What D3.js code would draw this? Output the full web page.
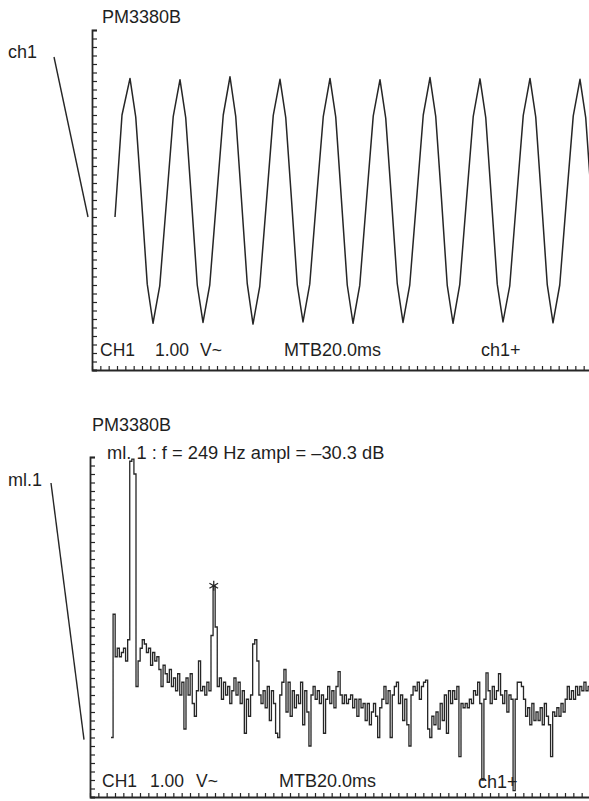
<!DOCTYPE html>
<html>
<head>
<meta charset="utf-8">
<script src="https://cdn.jsdelivr.net/npm/d3@7"></script>
<style>
  body { margin: 0; background: #fff; }
  svg { display: block; font-family: "Liberation Sans", Arial, Helvetica, sans-serif; }
  text { fill: #1f1f1f; }
</style>
</head>
<body>
<svg id="chart" width="589" height="801"></svg>
<script>
// ---- top trace: CH1 in time, 1.00 V/div, 20 ms/div ----
const sineT = [
  9.2, 12,
  15.2, 17.5, 19.8, 22.1, 24.4, 27.1, 29.8, 32.5,
  35.2, 37.5, 39.8, 42.1, 44.4, 47.1, 49.8, 52.5,
  55.2, 57.5, 59.8, 62.1, 64.4, 67.1, 69.8, 72.5,
  75.2, 77.5, 79.8, 82.1, 84.4, 87.1, 89.8, 92.5,
  95.2, 97.5, 99.8, 102.1, 104.4, 107.1, 109.8, 112.5,
  115.2, 117.5, 119.8, 122.1, 124.4, 127.1, 129.8, 132.5,
  135.2, 137.5, 139.8, 142.1, 144.4, 147.1, 149.8, 152.5,
  155.2, 157.5, 159.8, 162.1, 164.4, 167.1, 169.8, 172.5,
  175.2, 177.5, 179.8, 182.1, 184.4, 187.1, 189.8, 192.5,
  195.2, 197.5, 199.8
];
const sineV = [
  -0.4, 2.0,
  2.86, 1.95, 0.02, -1.98, -2.9, -2.02, -0.03, 1.97,
  2.83, 1.93, -0.01, -2.0, -2.88, -2.0, 0.01, 2.0,
  2.9, 1.96, 0.0, -1.97, -2.92, -2.03, -0.02, 1.99,
  2.84, 1.94, 0.01, -1.99, -2.87, -1.98, 0.02, 1.96,
  2.86, 1.95, -0.02, -2.0, -2.9, -2.01, 0.0, 1.98,
  2.83, 1.92, 0.01, -1.97, -2.88, -2.0, -0.01, 2.0,
  2.88, 1.96, 0.02, -2.01, -2.9, -1.99, 0.01, 1.97,
  2.85, 1.94, -0.01, -1.98, -2.87, -2.02, 0.0, 1.99,
  2.86, 1.95, 0.0, -1.99, -2.89, -2.0, 0.02, 1.98,
  2.84, 1.93, 0.0
];
const ch1GroundV = -0.4;

// ---- bottom trace: spectrum, 5 Hz bins from 0 Hz, dB ----
const specStartHz = 0;
const specBinHz = 5;
const specDb = [
  -66, -37, -47, -45, -47, -46, -45, -48, -43, -1,
  -0.5, -4, -54, -48, -45, -43, -44, -46, -45, -49,
  -46, -48, -47, -50, -54, -49, -51, -53, -50, -54,
  -52, -55, -51, -56, -53, -64, -52, -56, -51, -58,
  -61, -55, -48, -55, -54, -56, -53, -55, -42, -30.3,
  -40, -54, -52, -57, -53, -56, -54, -58, -55, -52,
  -56, -53, -58, -55, -65, -57, -61, -56, -44, -43,
  -48, -56, -58, -55, -59, -54, -62, -55, -58, -65,
  -66, -56, -53, -50, -60, -53, -61, -55, -59, -56,
  -58, -53, -63, -55, -60, -68, -56, -54, -57, -55,
  -58, -56, -65, -57, -54, -58, -55, -59, -54, -50.5,
  -56, -58, -56, -58, -57, -56, -59, -57, -61, -57,
  -59, -58, -62, -58, -63, -60, -58, -61, -66, -59,
  -57, -54, -58, -55, -66, -56, -54, -53, -58, -56,
  -62, -57, -63, -68, -56, -54, -55, -53, -57, -54,
  -53, -52.5, -64, -66, -61, -63, -60, -64, -58, -62,
  -56, -65, -55, -58, -55, -57, -54, -70.5, -58, -59,
  -58, -59, -57, -58, -55, -56, -53, -58, -76, -57,
  -50.8, -55, -58, -54, -57, -55, -51, -56, -58, -55,
  -60, -56, -57, -78.5, -57, -53, -53, -54, -57, -61,
  -59, -63, -58, -62, -60, -62, -59, -63, -58, -61,
  -63, -70.5, -60, -61, -59, -61, -58, -60, -57, -54,
  -57, -55, -57, -54, -56, -54, -55, -53, -55, -54, -54
];
const markerHz = 249;
const markerDb = -30.3;
const ml1GroundDb = -66.5;

// screen labels
const screenLabels = ['CH1', '1.00', 'V~', 'MTB20.0ms', 'ch1+'];
const markerText = 'ml. 1 : f = 249 Hz ampl = \u201330.3 dB';

const ink = '#262626';
const svg = d3.select('#chart');

// panel frames
const topPanel = { left: 92, top: 30, bottom: 370 };
const botPanel = { left: 90, top: 457, bottom: 797 };

const xTime = d3.scaleLinear().domain([0, 200]).range([topPanel.left, topPanel.left + 500]);
const yVolt = d3.scaleLinear().domain([-4, 4]).range([topPanel.bottom, topPanel.top]);
const xFreq = d3.scaleLinear().domain([0, 1200]).range([111, 611]);
const yDb = d3.scaleLinear().domain([-80, 0]).range([botPanel.bottom, botPanel.top]);

/**
 * draw the tick frame of one screen
 */
function drawFrame(p, yScale, yStep) {
  const [y0, y1] = yScale.domain();
  const g = svg.append('g').attr('class', 'frame');

  g.append('g')
    .attr('transform', `translate(${p.left},0)`)
    .call(d3.axisRight(yScale)
      .tickValues(d3.range(y0, y1 + yStep / 2, yStep))
      .tickSize(5)
      .tickSizeOuter(5)
      .tickFormat(''));

  // minor ticks along the time base, 60 across the screen
  const grid = d3.scaleLinear().domain([0, 60]).range([p.left, p.left + 500]);
  g.append('g')
    .attr('transform', `translate(0,${p.bottom})`)
    .call(d3.axisTop(grid)
      .tickValues(d3.range(0, 61))
      .tickSize(4)
      .tickSizeOuter(0)
      .tickFormat(''));

  g.selectAll('path.domain').attr('stroke', ink).attr('stroke-width', 1.8);
  g.selectAll('.tick line').attr('stroke', ink).attr('stroke-width', 1.2);
}

drawFrame(topPanel, yVolt, 0.2);
drawFrame(botPanel, yDb, 2);

// ---- top trace ----
const sineData = sineT.map((t, i) => ({ t: t, v: sineV[i] }));
svg.append('path')
  .datum(sineData)
  .attr('fill', 'none')
  .attr('stroke', ink)
  .attr('stroke-width', 1.5)
  .attr('stroke-linejoin', 'round')
  .attr('d', d3.line()
    .x(d => xTime(d.t))
    .y(d => yVolt(d.v)));

// ---- bottom trace ----
const specData = specDb.map((db, i) => ({ f: specStartHz + i * specBinHz, db: db }));
svg.append('path')
  .datum(specData)
  .attr('fill', 'none')
  .attr('stroke', ink)
  .attr('stroke-width', 1.3)
  .attr('d', d3.line()
    .x(d => xFreq(d.f))
    .y(d => yDb(d.db))
    .curve(d3.curveStepAfter));

// marker star
svg.append('path')
  .attr('d', d3.symbol().type(d3.symbolAsterisk).size(70)())
  .attr('transform', `translate(${xFreq(markerHz) - 1},${yDb(markerDb)})`)
  .attr('fill', 'none')
  .attr('stroke', ink)
  .attr('stroke-width', 1.3);

// channel reference lines
svg.append('line')
  .attr('x1', 54).attr('y1', 57)
  .attr('x2', 88).attr('y2', yVolt(ch1GroundV))
  .attr('stroke', ink).attr('stroke-width', 1.4);
svg.append('line')
  .attr('x1', 51).attr('y1', 483)
  .attr('x2', 84).attr('y2', yDb(ml1GroundDb))
  .attr('stroke', ink).attr('stroke-width', 1.4);

// ---- texts ----
function label(x, y, s, size) {
  svg.append('text')
    .attr('x', x).attr('y', y)
    .attr('font-size', size)
    .text(s);
}

label(102, 23, 'PM3380B', 18);
label(8, 58, 'ch1', 18);
label(100, 356, screenLabels[0], 17.5);
label(155, 356, screenLabels[1], 17.5);
label(200, 356, screenLabels[2], 17.5);
label(284, 356, screenLabels[3], 18);
label(481, 356, screenLabels[4], 18);

label(92, 431, 'PM3380B', 18);
label(107, 459, markerText, 18.3);
label(8, 486, 'ml.1', 18);
label(102, 787, screenLabels[0], 17.5);
label(150, 787, screenLabels[1], 17.5);
label(196, 787, screenLabels[2], 17.5);
label(279, 787, screenLabels[3], 18);
label(478, 788, screenLabels[4], 18);
</script>
</body>
</html>
